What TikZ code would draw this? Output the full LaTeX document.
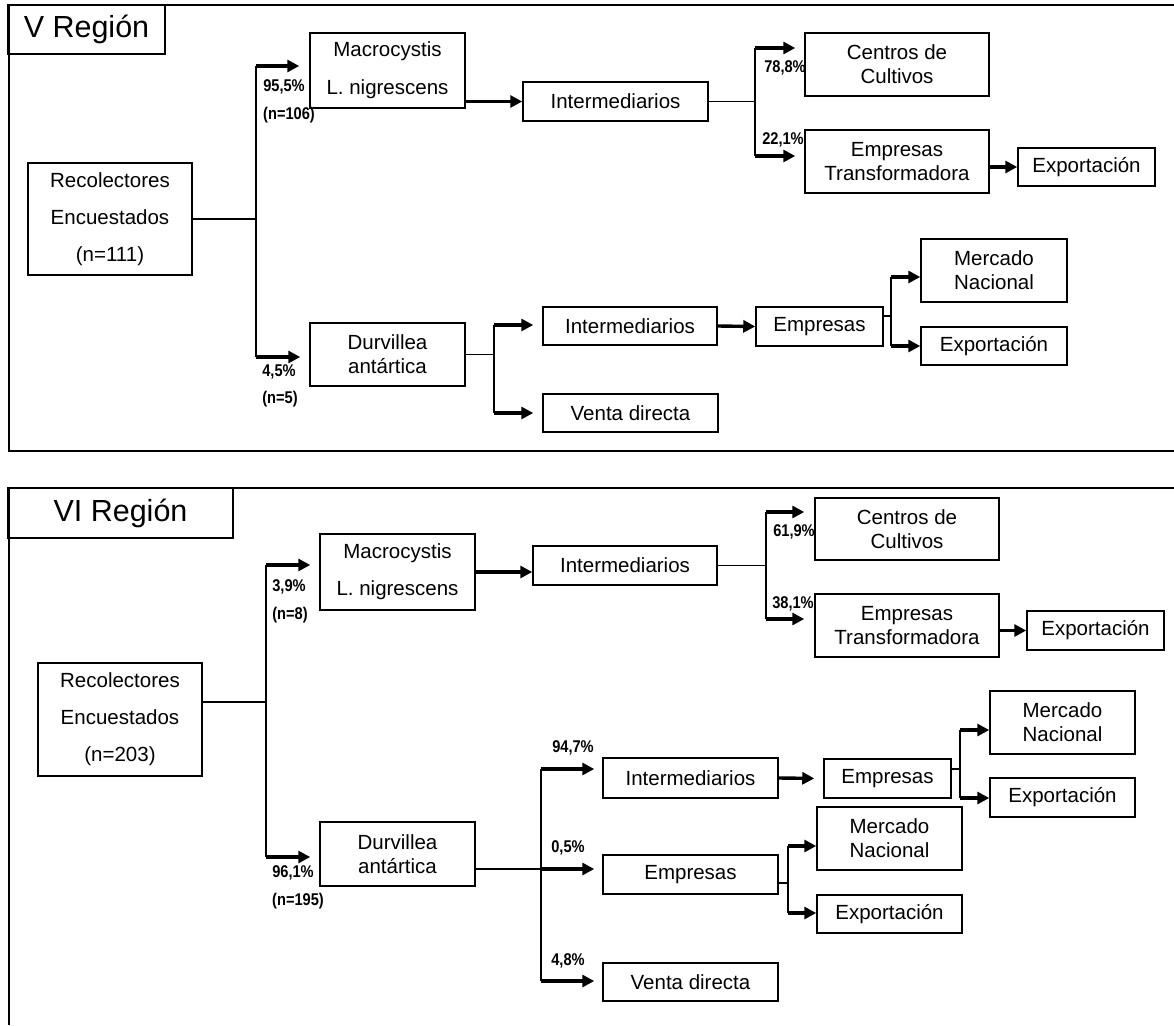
\documentclass[tikz,border=0pt]{standalone}
\usepackage{fontspec}
\setmainfont{Liberation Sans}
\newfontfamily\pctfont[FakeStretch=0.86]{Liberation Sans}
\usetikzlibrary{arrows.meta,positioning,calc}

\begin{document}
\begin{tikzpicture}[x=1pt, y=-1pt,
    every node/.style={inner sep=0pt},
    box/.style={draw, line width=1.5pt, align=center, font=\fontsize{20.5}{24}\selectfont},
    titlebox/.style={draw, line width=1.5pt, font=\fontsize{30.5}{34}\selectfont},
    pct/.style={font=\pctfont\fontsize{17}{19}\selectfont\bfseries},
    link/.style={line width=1.8pt},
    flow/.style={line width=3.4pt, -{Triangle[length=12pt,width=12pt]}},
    panel/.style={line width=1.5pt}]
    \useasboundingbox (0,0) rectangle (1174,1025);
    \draw[panel] (1174,5) -- (9,5) -- (9,451) -- (1174,451);
    \draw[panel] (1174,488) -- (9,488) -- (9,1025);

    \node[titlebox, minimum width=157pt, minimum height=49pt] (reg5) at (86.5,29.5) {V Región};
    \node[box, minimum width=164pt, minimum height=112pt] (rec5) at (110,219) {Recolectores\\[13pt]Encuestados\\[13pt](n=111)};
    \node[box, minimum width=155pt, minimum height=75pt] (mac5) at (387.5,70.5) {Macrocystis\\[14pt]L. nigrescens};
    \node[box, minimum width=185pt, minimum height=39pt] (int5) at (615.5,101.5) {Intermediarios};
    \node[box, minimum width=184pt, minimum height=63pt] (cen5) at (897,64.5) {Centros de\\Cultivos};
    \node[box, minimum width=184pt, minimum height=63pt] (emt5) at (897,161.5) {Empresas\\Transformadora};
    \node[box, minimum width=137pt, minimum height=38pt] (exa5) at (1086.5,167) {Exportación};
    \node[box, minimum width=155pt, minimum height=63pt] (dur5) at (387.5,354.5) {Durvillea\\antártica};
    \node[box, minimum width=174pt, minimum height=38pt] (inb5) at (630,326) {Intermediarios};
    \node[box, minimum width=175pt, minimum height=38pt] (ven5) at (630.5,413) {Venta directa};
    \node[box, minimum width=127pt, minimum height=39pt] (emp5) at (819.5,326.5) {Empresas};
    \node[box, minimum width=146pt, minimum height=63pt] (mer5) at (994,270.5) {Mercado\\Nacional};
    \node[box, minimum width=146pt, minimum height=38pt] (exb5) at (994,346) {Exportación};

    \node[pct] (p955) at (284,87) {95,5\%};
    \node[pct] (n106) at (289,115) {(n=106)};
    \node[pct] (p45) at (279,372) {4,5\%};
    \node[pct] (n5) at (280,399) {(n=5)};
    \node[pct] (p788) at (785,68) {78,8\%};
    \node[pct] (p221) at (783,140) {22,1\%};

    \coordinate (f5m) at (256,219);
    \coordinate (f5t) at (256,66);
    \coordinate (f5b) at (256,357);
    \draw[link] (rec5.east) -- (f5m);
    \draw[link] (f5t) -- (f5b);
    \draw[flow, shorten >=10pt] (f5t) -- (f5t -| mac5.west);
    \draw[flow, shorten >=9pt] (f5b) -- (f5b -| dur5.west);
    \draw[flow] (mac5.east |- int5.west) -- (int5.west);
    \coordinate (g5t) at (755,48);
    \coordinate (g5b) at (755,156);
    \draw[link] (int5.east) -- (int5.east -| g5t);
    \draw[link] (g5t) -- (g5b);
    \draw[flow, shorten >=9pt] (g5t) -- (g5t -| cen5.west);
    \draw[flow, shorten >=9pt] (g5b) -- (g5b -| emt5.west);
    \draw[flow] (emt5.east |- exa5.west) -- (exa5.west);
    \coordinate (h5t) at (494,325);
    \coordinate (h5b) at (494,413);
    \draw[link] (dur5.east) -- (dur5.east -| h5t);
    \draw[link] (h5t) -- (h5b);
    \draw[flow, shorten >=9pt] (h5t) -- (h5t -| inb5.west);
    \draw[flow, shorten >=9pt] (h5b) -- (h5b -| ven5.west);
    \draw[flow] (inb5.east) -- (emp5.west);
    \coordinate (k5m) at (891,316);
    \coordinate (k5t) at (891,277);
    \coordinate (k5b) at (891,346);
    \draw[link] (emp5.east |- k5m) -- (k5m);
    \draw[link] (k5t) -- (k5b);
    \draw[flow] (k5t) -- (k5t -| mer5.west);
    \draw[flow] (k5b) -- (k5b -| exb5.west);

    \node[titlebox, minimum width=225pt, minimum height=50pt] (reg6) at (120.5,513) {VI Región};
    \node[box, minimum width=164pt, minimum height=113pt] (rec6) at (120,719.5) {Recolectores\\[13pt]Encuestados\\[13pt](n=203)};
    \node[box, minimum width=155pt, minimum height=76pt] (mac6) at (397.5,572) {Macrocystis\\[13pt]L. nigrescens};
    \node[box, minimum width=184pt, minimum height=39pt] (int6) at (625,565.5) {Intermediarios};
    \node[box, minimum width=184pt, minimum height=62pt] (cen6) at (907,529) {Centros de\\Cultivos};
    \node[box, minimum width=184pt, minimum height=63pt] (emt6) at (907,625.5) {Empresas\\Transformadora};
    \node[box, minimum width=137pt, minimum height=39pt] (exa6) at (1095.5,630.5) {Exportación};
    \node[box, minimum width=155pt, minimum height=64pt] (dur6) at (397.5,854) {Durvillea\\antártica};
    \node[box, minimum width=175pt, minimum height=40pt] (inb6) at (690.5,778) {Intermediarios};
    \node[box, minimum width=127pt, minimum height=39pt] (emp6) at (887.5,778.5) {Empresas};
    \node[box, minimum width=145pt, minimum height=63pt] (mer6) at (1062.5,722.5) {Mercado\\Nacional};
    \node[box, minimum width=145pt, minimum height=39pt] (exb6) at (1062.5,797.5) {Exportación};
    \node[box, minimum width=175pt, minimum height=39pt] (emq6) at (690.5,874.5) {Empresas};
    \node[box, minimum width=145pt, minimum height=63pt] (mes6) at (889.5,838.5) {Mercado\\Nacional};
    \node[box, minimum width=145pt, minimum height=38pt] (exc6) at (889.5,914) {Exportación};
    \node[box, minimum width=175pt, minimum height=38pt] (ven6) at (690.5,982) {Venta directa};

    \node[pct] (p39) at (289,587) {3,9\%};
    \node[pct] (n8) at (290,615) {(n=8)};
    \node[pct] (p961) at (293,873) {96,1\%};
    \node[pct] (n195) at (298,901) {(n=195)};
    \node[pct] (p619) at (794,532) {61,9\%};
    \node[pct] (p381) at (793,604) {38,1\%};
    \node[pct] (p947) at (573,748) {94,7\%};
    \node[pct] (p05) at (568,848) {0,5\%};
    \node[pct] (p48) at (568,961) {4,8\%};

    \coordinate (f6m) at (266,702);
    \coordinate (f6t) at (266,565);
    \coordinate (f6b) at (266,857);
    \draw[link] (rec6.east |- f6m) -- (f6m);
    \draw[link] (f6t) -- (f6b);
    \draw[flow, shorten >=9pt] (f6t) -- (f6t -| mac6.west);
    \draw[flow, shorten >=9pt] (f6b) -- (f6b -| dur6.west);
    \draw[flow] (mac6.east) -- (mac6.east -| int6.west);
    \coordinate (g6m) at (766,565.5);
    \coordinate (g6t) at (766,512);
    \coordinate (g6b) at (766,619);
    \draw[link] (int6.east) -- (g6m);
    \draw[link] (g6t) -- (g6b);
    \draw[flow, shorten >=10pt] (g6t) -- (g6t -| cen6.west);
    \draw[flow, shorten >=10pt] (g6b) -- (g6b -| emt6.west);
    \draw[flow] (emt6.east |- exa6.west) -- (exa6.west);
    \coordinate (h6m) at (541,869);
    \coordinate (h6t) at (541,769);
    \coordinate (h6b) at (541,981);
    \draw[link] (dur6.east |- h6m) -- (h6m);
    \draw[link] (h6t) -- (h6b);
    \draw[flow, shorten >=8pt] (h6t) -- (h6t -| inb6.west);
    \draw[flow, shorten >=8pt] (h6m) -- (h6m -| emq6.west);
    \draw[flow, shorten >=8pt] (h6b) -- (h6b -| ven6.west);
    \draw[flow, shorten >=9pt] (inb6.east) -- (emp6.west);
    \coordinate (k6m) at (960,769);
    \coordinate (k6t) at (960,730);
    \coordinate (k6b) at (960,798);
    \draw[link] (emp6.east |- k6m) -- (k6m);
    \draw[link] (k6t) -- (k6b);
    \draw[flow] (k6t) -- (k6t -| mer6.west);
    \draw[flow] (k6b) -- (k6b -| exb6.west);
    \coordinate (m6m) at (788,883);
    \coordinate (m6t) at (788,846);
    \coordinate (m6b) at (788,913);
    \draw[link] (emq6.east |- m6m) -- (m6m);
    \draw[link] (m6t) -- (m6b);
    \draw[flow] (m6t) -- (m6t -| mes6.west);
    \draw[flow] (m6b) -- (m6b -| exc6.west);
\end{tikzpicture}
\end{document}
